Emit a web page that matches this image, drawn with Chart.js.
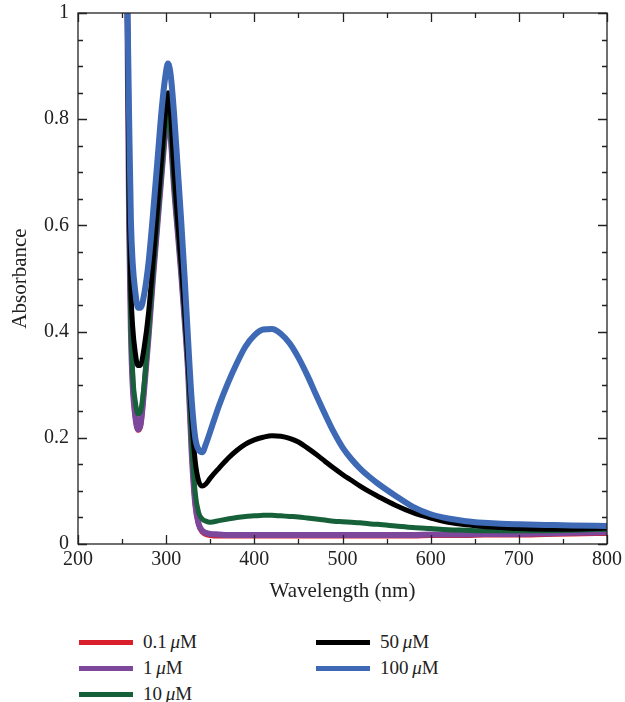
<!DOCTYPE html>
<html>
<head>
<meta charset="utf-8">
<script src="https://cdn.jsdelivr.net/npm/chart.js@4.4.0/dist/chart.umd.min.js"></script>
<style>
  body { margin: 0; background: #fff; font-family: "Liberation Serif", serif; }
  #wrap { position: relative; width: 625px; height: 702px; }
  #chart { display: block; }
  .item { position: absolute; height: 26px; display: flex; align-items: center; font-size: 19px; color: #222; }
  .swatch { width: 54px; height: 5px; margin-right: 10px; }
  .item i { font-style: italic; }
</style>
</head>
<body>
<div id="wrap">
  <canvas id="chart" width="625" height="610"></canvas>
  <div id="legend"></div>
</div>
<script>
const wavelengths = [250, 256, 258, 260, 262, 265, 268, 271, 275, 280,
  285, 290, 295, 299, 302, 305, 309, 313, 317, 321,
  325, 329, 333, 337, 341, 345, 350, 360, 370, 380,
  390, 400, 410, 420, 430, 440, 450, 460, 470, 480,
  490, 500, 510, 520, 530, 540, 560, 580, 600, 620,
  640, 660, 680, 700, 730, 760, 800];

const abs01uM = [1.40, 1.00, 0.60, 0.40, 0.30, 0.24, 0.214, 0.222, 0.29, 0.39,
  0.50, 0.60, 0.70, 0.772, 0.795, 0.765, 0.67, 0.59, 0.51, 0.42,
  0.32, 0.17, 0.073, 0.035, 0.022, 0.018, 0.016, 0.015, 0.015, 0.015,
  0.015, 0.015, 0.015, 0.015, 0.015, 0.015, 0.015, 0.015, 0.015, 0.015,
  0.015, 0.015, 0.015, 0.015, 0.015, 0.015, 0.015, 0.015, 0.016, 0.016,
  0.016, 0.017, 0.017, 0.017, 0.018, 0.019, 0.020];

const abs1uM = [1.40, 1.00, 0.60, 0.40, 0.30, 0.24, 0.216, 0.225, 0.29, 0.39,
  0.50, 0.60, 0.70, 0.775, 0.80, 0.77, 0.67, 0.59, 0.51, 0.42,
  0.32, 0.17, 0.075, 0.037, 0.025, 0.021, 0.019, 0.018, 0.017, 0.017,
  0.017, 0.017, 0.017, 0.017, 0.017, 0.017, 0.017, 0.017, 0.017, 0.017,
  0.017, 0.017, 0.017, 0.017, 0.017, 0.017, 0.017, 0.017, 0.018, 0.018,
  0.018, 0.019, 0.019, 0.019, 0.020, 0.021, 0.022];

const abs10uM = [1.40, 1.00, 0.62, 0.42, 0.32, 0.268, 0.245, 0.25, 0.30, 0.40,
  0.51, 0.61, 0.71, 0.785, 0.817, 0.78, 0.68, 0.60, 0.52, 0.43,
  0.33, 0.19, 0.095, 0.058, 0.047, 0.043, 0.041, 0.044, 0.047, 0.050,
  0.052, 0.053, 0.054, 0.054, 0.053, 0.052, 0.051, 0.049, 0.047, 0.045,
  0.043, 0.042, 0.041, 0.040, 0.038, 0.037, 0.034, 0.031, 0.029, 0.027,
  0.026, 0.025, 0.025, 0.025, 0.025, 0.026, 0.028];

const abs50uM = [1.40, 1.02, 0.66, 0.48, 0.41, 0.36, 0.336, 0.337, 0.37, 0.435,
  0.53, 0.63, 0.73, 0.81, 0.85, 0.81, 0.70, 0.61, 0.53, 0.44,
  0.34, 0.235, 0.155, 0.118, 0.109, 0.113, 0.124, 0.143, 0.161, 0.176,
  0.188, 0.196, 0.201, 0.204, 0.203, 0.199, 0.192, 0.181, 0.169, 0.156,
  0.143, 0.131, 0.120, 0.109, 0.099, 0.090, 0.073, 0.059, 0.049, 0.041,
  0.036, 0.033, 0.031, 0.029, 0.028, 0.028, 0.030];

const abs100uM = [1.40, 1.02, 0.80, 0.61, 0.53, 0.475, 0.445, 0.445, 0.47, 0.53,
  0.62, 0.72, 0.82, 0.88, 0.905, 0.885, 0.81, 0.71, 0.61, 0.50,
  0.38, 0.27, 0.20, 0.177, 0.173, 0.188, 0.212, 0.261, 0.303, 0.34,
  0.372, 0.393, 0.404, 0.405, 0.396, 0.378, 0.351, 0.318, 0.281, 0.245,
  0.211, 0.182, 0.16, 0.142, 0.127, 0.114, 0.091, 0.07, 0.056, 0.048,
  0.043, 0.040, 0.038, 0.037, 0.036, 0.035, 0.034];

const seriesNames = ["0.1", "1", "10", "50", "100"];
const seriesValues = [abs01uM, abs1uM, abs10uM, abs50uM, abs100uM];
const seriesColors = ["#d91f2b", "#7d479c", "#16603a", "#000000", "#3e69b5"];
const seriesWidths = [5, 6, 5, 5, 6];

const xTicks = { min: 200, max: 800, major: 100, minor: 50 };
const yTicks = { min: 0, max: 1, major: 0.2, minor: 0.05 };

const serif = "'Liberation Serif', 'Times New Roman', serif";

// inward ticks on all four sides plus the box
const frame = {
  id: "frame",
  afterDatasetsDraw(chart) {
    const { ctx, chartArea: a, scales: { x, y } } = chart;
    ctx.save();
    ctx.strokeStyle = "#222";
    ctx.lineWidth = 1.3;
    ctx.beginPath();
    for (let v = xTicks.min; v <= xTicks.max + 1e-6; v += xTicks.minor) {
      const px = Math.round(x.getPixelForValue(v)) + 0.5;
      const len = Math.abs(v / xTicks.major - Math.round(v / xTicks.major)) < 1e-6 ? 9 : 5;
      ctx.moveTo(px, a.bottom); ctx.lineTo(px, a.bottom - len);
      ctx.moveTo(px, a.top); ctx.lineTo(px, a.top + len);
    }
    for (let v = yTicks.min; v <= yTicks.max + 1e-6; v += yTicks.minor) {
      const py = Math.round(y.getPixelForValue(v)) + 0.5;
      const len = Math.abs(v / yTicks.major - Math.round(v / yTicks.major)) < 1e-6 ? 9 : 5;
      ctx.moveTo(a.left, py); ctx.lineTo(a.left + len, py);
      ctx.moveTo(a.right, py); ctx.lineTo(a.right - len, py);
    }
    ctx.stroke();
    ctx.strokeRect(a.left, a.top, a.right - a.left, a.bottom - a.top);
    ctx.restore();
  }
};

new Chart(document.getElementById("chart"), {
  type: "line",
  data: {
    datasets: seriesValues.map((vals, i) => ({
      label: seriesNames[i] + " μM",
      data: wavelengths.map((w, j) => ({ x: w, y: vals[j] })),
      borderColor: seriesColors[i],
      borderWidth: seriesWidths[i],
      pointRadius: 0,
      cubicInterpolationMode: "monotone",
      borderJoinStyle: "round",
      borderCapStyle: "round",
      order: 5 - i,
    })),
  },
  options: {
    responsive: false,
    animation: false,
    layout: { padding: { top: 13, right: 18, left: 0, bottom: 0 } },
    plugins: { legend: { display: false }, tooltip: { enabled: false } },
    scales: {
      x: {
        type: "linear",
        min: xTicks.min,
        max: xTicks.max,
        afterFit: (s) => { s.height = 66; s.paddingLeft = 0; s.paddingRight = 0; },
        ticks: { stepSize: xTicks.major, padding: 4, color: "#222", font: { family: serif, size: 20 } },
        grid: { display: false, drawTicks: false },
        border: { display: false },
        title: { display: true, text: "Wavelength (nm)", color: "#222", font: { family: serif, size: 21 }, padding: { top: 0, bottom: 6 } },
      },
      y: {
        min: yTicks.min,
        max: yTicks.max,
        afterFit: (s) => { s.width = 78; s.paddingTop = 0; s.paddingBottom = 0; },
        ticks: {
          stepSize: yTicks.major, padding: 9, color: "#222", font: { family: serif, size: 20 },
          callback: (v) => String(+v.toFixed(2)),
        },
        grid: { display: false, drawTicks: false },
        border: { display: false },
        title: { display: true, text: "Absorbance", color: "#222", font: { family: serif, size: 21 }, padding: { top: 8, bottom: 0 } },
      },
    },
  },
  plugins: [frame],
});

// legend below the plot, two columns
const legendPos = [[79, 629], [79, 655], [79, 681], [316, 629], [316, 655]];
const legend = document.getElementById("legend");
seriesNames.forEach((name, i) => {
  const item = document.createElement("div");
  item.className = "item";
  item.style.left = legendPos[i][0] + "px";
  item.style.top = legendPos[i][1] + "px";
  const sw = document.createElement("div");
  sw.className = "swatch";
  sw.style.background = seriesColors[i];
  const txt = document.createElement("span");
  txt.innerHTML = name + "\u2009<i>μ</i>M";
  item.appendChild(sw);
  item.appendChild(txt);
  legend.appendChild(item);
});
</script>
</body>
</html>
